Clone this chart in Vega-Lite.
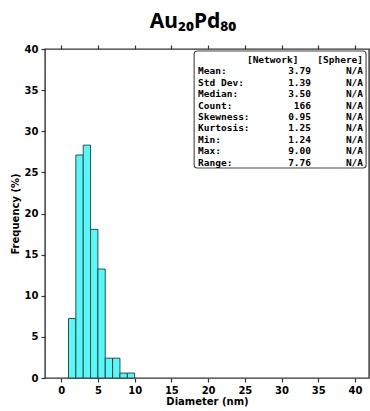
{
  "$schema": "https://vega.github.io/schema/vega-lite/v6.json",
  "width": 324,
  "height": 329,
  "autosize": {"type": "none"},
  "padding": {"left": 45, "top": 49, "right": 1, "bottom": 33},
  "title": {
    "text": "Au₂₀Pd₈₀",
    "font": "Noto Sans",
    "fontSize": 21,
    "fontWeight": "bold",
    "color": "black",
    "anchor": "middle",
    "dx": -14,
    "offset": 12
  },
  "config": {
    "view": {"stroke": "#333333", "strokeWidth": 1.4},
    "axis": {
      "domain": false,
      "grid": false,
      "labelFont": "DejaVu Sans",
      "labelFontWeight": "bold",
      "labelFontSize": 10,
      "labelColor": "black",
      "tickColor": "#333333",
      "tickSize": 4,
      "tickWidth": 1.2,
      "labelPadding": 3,
      "titleFont": "DejaVu Sans",
      "titleFontWeight": "bold",
      "titleFontSize": 10,
      "titleColor": "black"
    },
    "text": {"font": "DejaVu Sans Mono", "fontWeight": "bold", "fontSize": 9.5, "color": "black", "baseline": "middle"}
  },
  "datasets": {
    "bins": [
      {"bin_start": 1, "bin_end": 2, "pct": 7.23},
      {"bin_start": 2, "bin_end": 3, "pct": 27.11},
      {"bin_start": 3, "bin_end": 4, "pct": 28.31},
      {"bin_start": 4, "bin_end": 5, "pct": 18.07},
      {"bin_start": 5, "bin_end": 6, "pct": 13.25},
      {"bin_start": 6, "bin_end": 7, "pct": 2.41},
      {"bin_start": 7, "bin_end": 8, "pct": 2.41},
      {"bin_start": 8, "bin_end": 9, "pct": 0.60},
      {"bin_start": 9, "bin_end": 10, "pct": 0.60}
    ],
    "stats": [
      {"stat": "Mean:", "network": "3.79", "sphere": "N/A"},
      {"stat": "Std Dev:", "network": "1.39", "sphere": "N/A"},
      {"stat": "Median:", "network": "3.50", "sphere": "N/A"},
      {"stat": "Count:", "network": "166", "sphere": "N/A"},
      {"stat": "Skewness:", "network": "0.95", "sphere": "N/A"},
      {"stat": "Kurtosis:", "network": "1.25", "sphere": "N/A"},
      {"stat": "Min:", "network": "1.24", "sphere": "N/A"},
      {"stat": "Max:", "network": "9.00", "sphere": "N/A"},
      {"stat": "Range:", "network": "7.76", "sphere": "N/A"}
    ],
    "header": [
      {"stat": "hdr", "network": "[Network]", "sphere": "[Sphere]"}
    ]
  },
  "resolve": {"scale": {"y": "independent"}, "axis": {"x": "independent", "y": "independent"}},
  "layer": [
    {
      "data": {"name": "bins"},
      "mark": {"type": "bar", "fill": "#58F8F8", "stroke": "#203c3c", "strokeWidth": 0.9, "orient": "vertical"},
      "encoding": {
        "x": {
          "field": "bin_start",
          "type": "quantitative",
          "scale": {"domain": [-2.2, 41.9], "nice": false, "zero": false, "padding": 0},
          "axis": {"orient": "bottom", "values": [0, 5, 10, 15, 20, 25, 30, 35, 40], "title": "Diameter (nm)", "titlePadding": 1}
        },
        "x2": {"field": "bin_end"},
        "y": {
          "field": "pct",
          "type": "quantitative",
          "scale": {"domain": [0, 40], "nice": false, "zero": true},
          "axis": {"values": [0, 5, 10, 15, 20, 25, 30, 35, 40], "title": "Frequency (%)", "titlePadding": 4}
        },
        "y2": {"datum": 0}
      }
    },
    {
      "data": {"name": "bins"},
      "mark": {"type": "point", "opacity": 0},
      "encoding": {
        "x": {
          "field": "bin_start",
          "type": "quantitative",
          "axis": {"orient": "top", "values": [0, 5, 10, 15, 20, 25, 30, 35, 40], "labels": false, "title": null}
        },
        "y": {"field": "pct", "type": "quantitative", "scale": {"domain": [0, 40], "nice": false}, "axis": null}
      }
    },
    {
      "data": {"values": [{}]},
      "mark": {"type": "rect", "fill": "white", "stroke": "#444444", "strokeWidth": 1.1, "cornerRadius": 3},
      "encoding": {
        "x": {"datum": 18.1, "type": "quantitative", "axis": null},
        "x2": {"datum": 41.5},
        "y": {"datum": 39.76, "type": "quantitative", "scale": {"domain": [0, 40], "nice": false}, "axis": null},
        "y2": {"datum": 25.53}
      }
    },
    {
      "data": {"name": "stats"},
      "mark": {"type": "text", "align": "left"},
      "encoding": {
        "x": {"datum": 18.64, "type": "quantitative", "axis": null},
        "y": {"field": "stat", "type": "ordinal", "scale": {"type": "point", "domain": ["hdr", "Mean:", "Std Dev:", "Median:", "Count:", "Skewness:", "Kurtosis:", "Min:", "Max:", "Range:"], "range": [11, 113.5], "padding": 0}, "axis": null},
        "text": {"field": "stat"}
      }
    },
    {
      "data": {"name": "stats"},
      "mark": {"type": "text", "align": "right"},
      "encoding": {
        "x": {"datum": 34.01, "type": "quantitative", "axis": null},
        "y": {"field": "stat", "type": "ordinal", "scale": {"type": "point", "domain": ["hdr", "Mean:", "Std Dev:", "Median:", "Count:", "Skewness:", "Kurtosis:", "Min:", "Max:", "Range:"], "range": [11, 113.5], "padding": 0}, "axis": null},
        "text": {"field": "network"}
      }
    },
    {
      "data": {"name": "stats"},
      "mark": {"type": "text", "align": "right"},
      "encoding": {
        "x": {"datum": 41.09, "type": "quantitative", "axis": null},
        "y": {"field": "stat", "type": "ordinal", "scale": {"type": "point", "domain": ["hdr", "Mean:", "Std Dev:", "Median:", "Count:", "Skewness:", "Kurtosis:", "Min:", "Max:", "Range:"], "range": [11, 113.5], "padding": 0}, "axis": null},
        "text": {"field": "sphere"}
      }
    },
    {
      "data": {"name": "header"},
      "mark": {"type": "text", "align": "right"},
      "encoding": {
        "x": {"datum": 32.29, "type": "quantitative", "axis": null},
        "y": {"field": "stat", "type": "ordinal", "scale": {"type": "point", "domain": ["hdr", "Mean:", "Std Dev:", "Median:", "Count:", "Skewness:", "Kurtosis:", "Min:", "Max:", "Range:"], "range": [11, 113.5], "padding": 0}, "axis": null},
        "text": {"field": "network"}
      }
    },
    {
      "data": {"name": "header"},
      "mark": {"type": "text", "align": "right"},
      "encoding": {
        "x": {"datum": 41.09, "type": "quantitative", "axis": null},
        "y": {"field": "stat", "type": "ordinal", "scale": {"type": "point", "domain": ["hdr", "Mean:", "Std Dev:", "Median:", "Count:", "Skewness:", "Kurtosis:", "Min:", "Max:", "Range:"], "range": [11, 113.5], "padding": 0}, "axis": null},
        "text": {"field": "sphere"}
      }
    }
  ]
}
